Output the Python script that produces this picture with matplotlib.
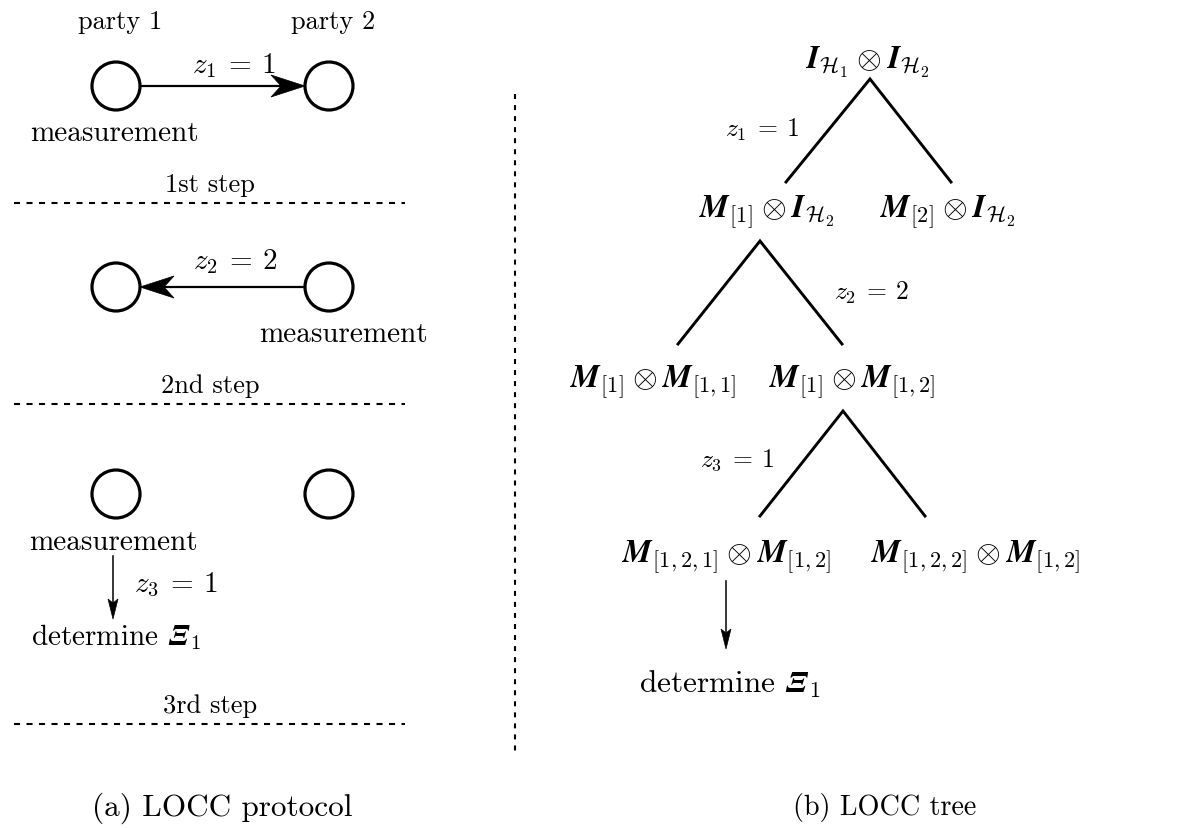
import matplotlib
matplotlib.use("Agg")
import matplotlib.pyplot as plt
from matplotlib.patches import Circle, Polygon
import numpy as np

plt.rcParams["mathtext.fontset"] = "cm"
plt.rcParams["font.family"] = "cmr10"

W_PX, H_PX = 1186, 829

# ---- content ----
party_labels = ["party 1", "party 2"]
step_labels = ["1st step", "2nd step", "3rd step"]
messages = [r"$z_1\:=\:1$", r"$z_2\:=\:2$", r"$z_3\:=\:1$"]
captions = ["(a) LOCC protocol", "(b) LOCC tree"]
result_label = r"determine $\mathbfit{\Xi}_1$"

root_label = r"$\mathbfit{I}_{\mathcal{H}_1} \otimes \mathbfit{I}_{\mathcal{H}_2}$"
level1_labels = [r"$\mathbfit{M}_{[1]} \otimes \mathbfit{I}_{\mathcal{H}_2}$",
                 r"$\mathbfit{M}_{[2]} \otimes \mathbfit{I}_{\mathcal{H}_2}$"]
level2_labels = [r"$\mathbfit{M}_{[1]} \otimes \mathbfit{M}_{[1,1]}$",
                 r"$\mathbfit{M}_{[1]} \otimes \mathbfit{M}_{[1,2]}$"]
level3_labels = [r"$\mathbfit{M}_{[1,2,1]} \otimes \mathbfit{M}_{[1,2]}$",
                 r"$\mathbfit{M}_{[1,2,2]} \otimes \mathbfit{M}_{[1,2]}$"]

# ---- layout (pixel coordinates, y downward) ----
party_x = [116, 329]
step_y = [87, 288, 495]
sep_y = [204, 405, 725]
R = 24

fig = plt.figure(figsize=(W_PX / 100, H_PX / 100), dpi=100)
ax = fig.add_axes([0, 0, 1, 1])
ax.set_xlim(0, W_PX)
ax.set_ylim(H_PX, 0)
ax.axis("off")

def stealth(tip, direction, L, Wd, back, ax=ax):
    d = np.asarray(direction, float)
    d /= np.hypot(*d)
    n = np.array([-d[1], d[0]])
    t = np.asarray(tip, float)
    pts = [t, t - d * L + n * Wd, t - d * (L - back), t - d * L - n * Wd]
    ax.add_patch(Polygon(pts, closed=True, fc="black", ec="black", lw=0.5))

FS_P = 19      # party names
FS_M = 21      # measurement / determine
FS_Z = 21      # message labels, left panel
FS_S = 19      # step labels
FS_TZ = 18.5   # message labels, tree
FS_T = 23      # tree nodes
FS_CAP = 22.5

# ---- (a) protocol ----
for x, lab in zip(party_x, party_labels):
    ax.text(x + 4, 22, lab, fontsize=FS_P, ha="center", va="center")

for y in step_y:
    for x in party_x:
        ax.add_patch(Circle((x, y), R, fill=False, lw=2.3, ec="black"))

# step 1: party 1 -> party 2
ax.plot([party_x[0] + R, party_x[1] - R - 20], [step_y[0]] * 2, color="black", lw=1.6)
stealth((party_x[1] - R, step_y[0]), (1, 0), 34, 11, 10)
ax.text(234, 66, messages[0], fontsize=FS_Z, ha="center", va="center")
ax.text(114, 134, "measurement", fontsize=FS_M, ha="center", va="center")

# step 2: party 2 -> party 1
ax.plot([party_x[1] - R, party_x[0] + R + 20], [step_y[1]] * 2, color="black", lw=1.6)
stealth((party_x[0] + R, step_y[1]), (-1, 0), 34, 11, 10)
ax.text(236, 262, messages[1], fontsize=FS_Z, ha="center", va="center")
ax.text(343, 335, "measurement", fontsize=FS_M, ha="center", va="center")

# step 3: local decision
ax.text(113, 543, "measurement", fontsize=FS_M, ha="center", va="center")
ax.plot([113, 113], [557, 612], color="black", lw=1.1)
stealth((113, 620), (0, 1), 20, 5, 4)
ax.text(134, 585, messages[2], fontsize=FS_Z, ha="left", va="center")
ax.text(31, 637, result_label, fontsize=FS_M, ha="left", va="center")

for y, lab in zip(sep_y, step_labels):
    ax.text(210, y - 19, lab, fontsize=FS_S, ha="center", va="center")
    ax.plot([14, 405], [y, y], color="black", lw=1.5, dashes=(2.9, 3.1))

ax.text(222, 808, captions[0], fontsize=FS_CAP, ha="center", va="center")

# divider
ax.plot([515, 515], [95, 752], color="black", lw=1.5, dashes=(2.4, 2.9))

# ---- (b) tree ----
LW_T = 2.1

def branch(apex, left, right):
    ax.plot([left[0], apex[0], right[0]], [left[1], apex[1], right[1]],
            color="black", lw=LW_T, solid_joinstyle="miter")

ax.text(867, 62, root_label, fontsize=FS_T, ha="center", va="center")
branch((870, 80), (786, 183), (951, 183))
ax.text(762, 130, messages[0], fontsize=FS_TZ, ha="center", va="center")

ax.text(767, 212, level1_labels[0], fontsize=FS_T, ha="center", va="center")
ax.text(948, 212, level1_labels[1], fontsize=FS_T, ha="center", va="center")
branch((760, 242), (678, 345), (842, 345))
ax.text(872, 293, messages[1], fontsize=FS_TZ, ha="center", va="center")

ax.text(653, 382, level2_labels[0], fontsize=FS_T, ha="center", va="center")
ax.text(852, 382, level2_labels[1], fontsize=FS_T, ha="center", va="center")
branch((843, 412), (760, 517), (925, 517))
ax.text(737, 460, messages[2], fontsize=FS_TZ, ha="center", va="center")

ax.text(727, 557, level3_labels[0], fontsize=FS_T, ha="center", va="center")
ax.text(976, 557, level3_labels[1], fontsize=FS_T, ha="center", va="center")
ax.plot([726, 726], [582, 642], color="black", lw=1.1)
stealth((726, 650), (0, 1), 20, 5, 4)
ax.text(730, 684, result_label, fontsize=FS_CAP, ha="center", va="center")

ax.text(885, 808, captions[1], fontsize=FS_CAP * 0.9, ha="center", va="center")

fig.savefig("out.png", dpi=100, facecolor="white")
